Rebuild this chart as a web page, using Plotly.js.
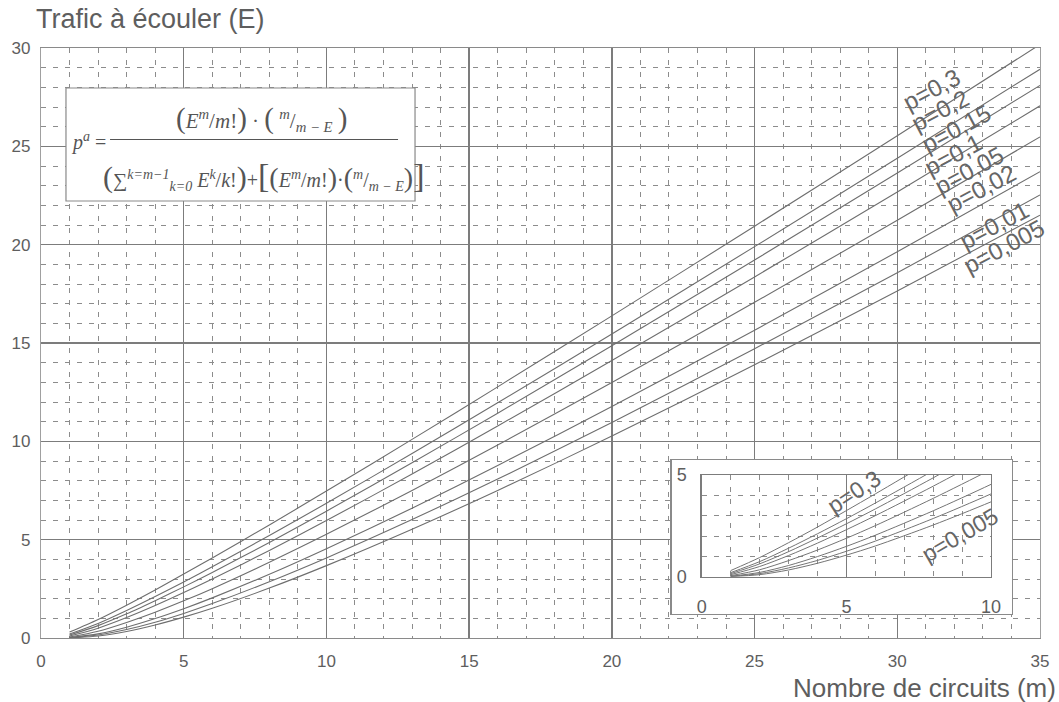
<!DOCTYPE html>
<html>
<head>
<meta charset="utf-8">
<script src="https://cdn.plot.ly/plotly-3.0.1.min.js"></script>
<style>
  html, body { margin: 0; padding: 0; background: #fff; }
  #chart { width: 1059px; height: 702px; }
</style>
</head>
<body>
<div id="chart"></div>
<script>
// Nombre de circuits (m) and traffic (E) for each waiting probability
var circuits = [1, 2, 3, 4, 5, 6, 8, 10, 13, 16, 20, 25, 30, 35];

var trafic_p0300 = [0.30, 0.94, 1.67, 2.44, 3.25, 4.07, 5.75, 7.47, 10.10, 12.77, 16.38, 20.94, 25.54, 30.18];
var trafic_p0200 = [0.20, 0.74, 1.40, 2.11, 2.85, 3.62, 5.21, 6.85, 9.38, 11.96, 15.46, 19.90, 24.39, 28.92];
var trafic_p0150 = [0.15, 0.63, 1.23, 1.90, 2.60, 3.33, 4.86, 6.45, 8.91, 11.43, 14.86, 19.22, 23.64, 28.10];
var trafic_p0100 = [0.10, 0.50, 1.04, 1.65, 2.31, 3.00, 4.45, 5.97, 8.34, 10.78, 14.11, 18.36, 22.68, 27.06];
var trafic_p0050 = [0.05, 0.34, 0.79, 1.31, 1.89, 2.51, 3.85, 5.27, 7.50, 9.81, 12.99, 17.07, 21.24, 25.48];
var trafic_p0020 = [0.02, 0.21, 0.55, 0.99, 1.49, 2.04, 3.24, 4.54, 6.60, 8.77, 11.77, 15.65, 19.64, 23.71];
var trafic_p0010 = [0.01, 0.15, 0.43, 0.80, 1.25, 1.75, 2.86, 4.07, 6.02, 8.08, 10.96, 14.71, 18.57, 22.53];
var trafic_p0005 = [0.005, 0.10, 0.33, 0.66, 1.06, 1.51, 2.54, 3.68, 5.53, 7.50, 10.27, 13.89, 17.64, 21.50];

var curveLabels = ["p=0,3", "p=0,2", "p=0,15", "p=0,1", "p=0,05", "p=0,02", "p=0,01", "p=0,005"];
var curveValues = [trafic_p0300, trafic_p0200, trafic_p0150, trafic_p0100,
                   trafic_p0050, trafic_p0020, trafic_p0010, trafic_p0005];

var mainTicks = [0, 5, 10, 15, 20, 25, 30, 35];
var insetTicks = [0, 5, 10];

var gray = '#5e5e5e';
var font = 'Liberation Sans, Arial, sans-serif';
var serif = 'Liberation Serif, Times New Roman, serif';

var data = [];

// main curves
curveValues.forEach(function(vals, i) {
  data.push({
    x: circuits, y: vals, type: 'scatter', mode: 'lines', name: curveLabels[i],
    xaxis: 'x', yaxis: 'y', hoverinfo: 'skip',
    line: { color: '#6e6e6e', width: 1.1, shape: 'spline', smoothing: 0.8 }
  });
});

// empty trace so the white inset box subplot exists
data.push({ x: [], y: [], type: 'scatter', mode: 'lines', xaxis: 'x2', yaxis: 'y2', hoverinfo: 'skip' });

// zoomed inset, same curves
curveValues.forEach(function(vals, i) {
  data.push({
    x: circuits, y: vals, type: 'scatter', mode: 'lines', name: curveLabels[i],
    xaxis: 'x3', yaxis: 'y3', hoverinfo: 'skip',
    line: { color: '#747474', width: 1, shape: 'spline', smoothing: 0.8 }
  });
});

function minorGrid() {
  return { dtick: 1, tick0: 0, showgrid: true, gridcolor: '#8c8c8c', gridwidth: 1, griddash: '5px,7px' };
}

var annotations = [
  { text: 'Trafic à écouler (E)', xref: 'paper', yref: 'paper', x: -0.007, y: 1.049,
    xanchor: 'left', yanchor: 'middle', showarrow: false, font: { family: font, size: 27, color: gray } },
  { text: 'Nombre de circuits (m)', xref: 'paper', yref: 'paper', x: 1.018, y: -0.084,
    xanchor: 'right', yanchor: 'middle', showarrow: false, font: { family: font, size: 26, color: gray } },

  // formula
  { text: '<i>p</i><sup><i>a</i></sup> =', xref: 'paper', yref: 'paper', x: 0.048, y: 0.842,
    xanchor: 'center', yanchor: 'middle', showarrow: false, font: { family: serif, size: 20, color: '#555' } },
  { text: '<span style="font-size:29px">(</span><i>E</i><sup><i>m</i></sup>/<i>m</i>!<span style="font-size:29px">)</span> · <span style="font-size:29px">(</span> <sup><i>m</i></sup>/<sub><i>m − E</i></sub> <span style="font-size:29px">)</span>',
    xref: 'paper', yref: 'paper', x: 0.2212, y: 0.880,
    xanchor: 'center', yanchor: 'middle', showarrow: false, font: { family: serif, size: 21, color: '#555' } },
  { text: '<span style="font-size:30px">(</span>∑<sup><i>k=m−1</i></sup><sub><i>k=0</i></sub> <i>E</i><sup><i>k</i></sup>/<i>k</i>!<span style="font-size:30px">)</span>+<span style="font-size:34px">[</span><span style="font-size:28px">(</span><i>E</i><sup><i>m</i></sup>/<i>m</i>!<span style="font-size:28px">)</span>·<span style="font-size:28px">(</span><sup><i>m</i></sup>/<sub><i>m − E</i></sub><span style="font-size:28px">)</span><span style="font-size:34px">]</span>',
    xref: 'paper', yref: 'paper', x: 0.2232, y: 0.784,
    xanchor: 'center', yanchor: 'middle', showarrow: false, font: { family: serif, size: 20, color: '#555' } }
];

// curve labels along the right edge
var labelPos = [[31.2, 27.9], [31.5, 26.8], [32.05, 25.93], [31.98, 24.56],
                [32.5, 23.79], [32.93, 22.88], [33.38, 21.0], [33.73, 19.93]];
curveLabels.forEach(function(lbl, i) {
  annotations.push({
    text: lbl, xref: 'x', yref: 'y', x: labelPos[i][0], y: labelPos[i][1],
    xanchor: 'center', yanchor: 'middle', showarrow: false, textangle: -28,
    font: { family: font, size: 24, color: '#666' }
  });
});

// inset labels
annotations.push({ text: curveLabels[0], xref: 'x3', yref: 'y3', x: 5.26, y: 4.16, showarrow: false,
  textangle: -33, font: { family: font, size: 23, color: '#666' } });
annotations.push({ text: curveLabels[7], xref: 'x3', yref: 'y3', x: 8.93, y: 2.05, showarrow: false,
  textangle: -30, font: { family: font, size: 23, color: '#666' } });

var layout = {
  width: 1059, height: 702,
  paper_bgcolor: '#ffffff', plot_bgcolor: '#ffffff',
  margin: { l: 41, r: 19, t: 48, b: 64 },
  showlegend: false,
  xaxis: {
    domain: [0, 1], anchor: 'y', range: [0, 35], tickvals: mainTicks,
    showgrid: true, gridcolor: '#7c7c7c', gridwidth: 1.4, zeroline: false,
    showline: true, mirror: true, linecolor: '#8a8a8a', linewidth: 1.2,
    ticks: '', ticklabelstandoff: 7, tickfont: { family: font, size: 17, color: gray },
    minor: minorGrid(), fixedrange: true
  },
  yaxis: {
    domain: [0, 1], anchor: 'x', range: [0, 30], tickvals: [0, 5, 10, 15, 20, 25, 30],
    showgrid: true, gridcolor: '#7c7c7c', gridwidth: 1.4, zeroline: false,
    showline: true, mirror: true, linecolor: '#a0a0a0', linewidth: 1.2,
    ticks: '', ticklabelstandoff: 6, tickfont: { family: font, size: 17, color: gray },
    minor: minorGrid(), fixedrange: true
  },
  // white framed box behind the inset
  xaxis2: {
    domain: [0.6313, 0.9720], anchor: 'y2', range: [0, 1], showgrid: false, zeroline: false,
    showticklabels: false, ticks: '', showline: true, mirror: true, linecolor: '#8a8a8a', linewidth: 1.2,
    fixedrange: true
  },
  yaxis2: {
    domain: [0.0407, 0.3017], anchor: 'x2', range: [0, 1], showgrid: false, zeroline: false,
    showticklabels: false, ticks: '', showline: true, mirror: true, linecolor: '#8a8a8a', linewidth: 1.2,
    fixedrange: true
  },
  xaxis3: {
    domain: [0.6614, 0.9510], anchor: 'y3', range: [0, 10], tickvals: insetTicks,
    showgrid: true, gridcolor: '#7c7c7c', gridwidth: 1.3, zeroline: false,
    showline: true, mirror: true, linecolor: '#7c7c7c', linewidth: 1.3,
    ticks: '', ticklabelstandoff: 13, tickfont: { family: font, size: 18, color: gray },
    minor: minorGrid(), fixedrange: true
  },
  yaxis3: {
    domain: [0.1039, 0.2763], anchor: 'x3', range: [0, 5], tickvals: [0, 5],
    showgrid: true, gridcolor: '#7c7c7c', gridwidth: 1.3, zeroline: false,
    showline: true, mirror: true, linecolor: '#7c7c7c', linewidth: 1.3,
    ticks: '', ticklabelstandoff: 10, tickfont: { family: font, size: 18, color: gray },
    minor: minorGrid(), fixedrange: true
  },
  shapes: [
    // formula box
    { type: 'rect', xref: 'paper', yref: 'paper', x0: 0.025, x1: 0.3744, y0: 0.7407, y1: 0.9322,
      fillcolor: '#ffffff', line: { color: '#8a8a8a', width: 1.2 }, layer: 'above' },
    // fraction bar
    { type: 'line', xref: 'paper', yref: 'paper', x0: 0.0691, x1: 0.3574, y0: 0.8449, y1: 0.8449,
      line: { color: '#555', width: 1.2 }, layer: 'above' }
  ],
  annotations: annotations
};

var config = { displayModeBar: false, staticPlot: true };

Plotly.newPlot('chart', data, layout, config);
</script>
</body>
</html>
